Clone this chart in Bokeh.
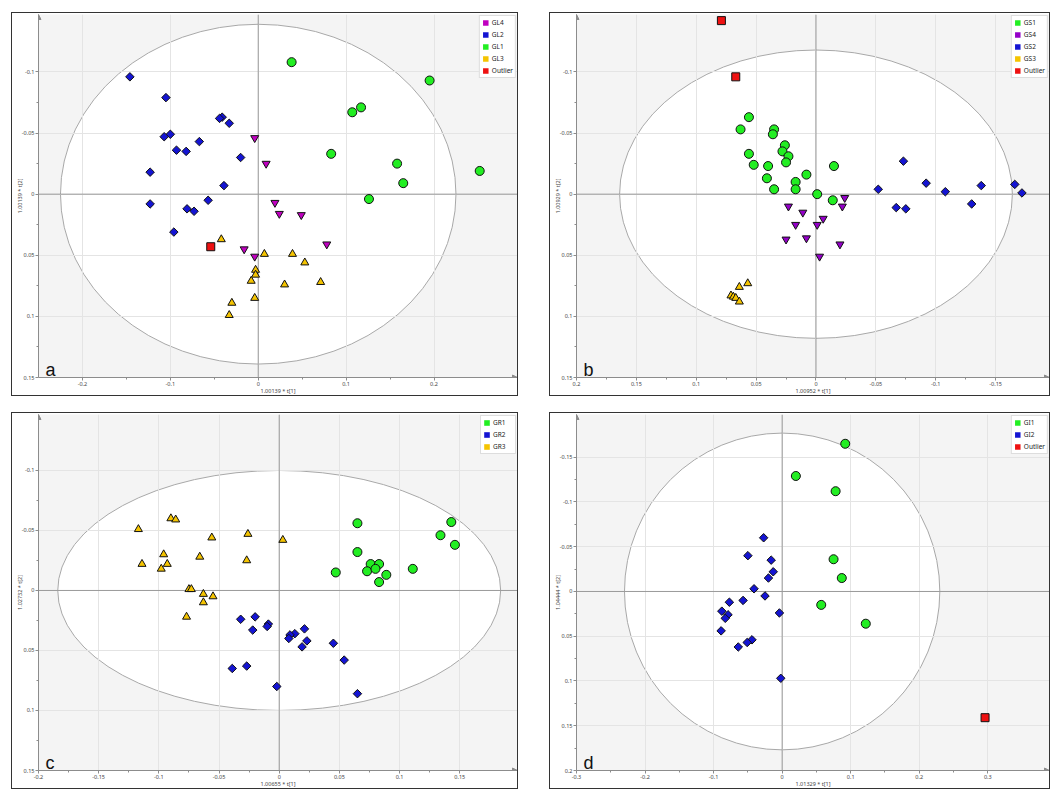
import math
from bokeh.plotting import figure
from bokeh.models import (Range1d, FixedTicker, CustomJSTickFormatter, Span, Label,
                          Legend, LegendItem, ColumnDataSource, Arrow, NormalHead)
from bokeh.layouts import row, column
from bokeh.embed import file_html
from bokeh.resources import INLINE

# ---------------- data ----------------
# Panel a
a_gl4_x = [-0.004, 0.009, 0.019, 0.024, 0.049, 0.078, -0.016, -0.004]
a_gl4_y = [-0.046, -0.025, 0.007, 0.016, 0.017, 0.041, 0.045, 0.051]
a_gl2_x = [-0.146, -0.105, -0.041, -0.044, -0.033, -0.100, -0.107, -0.067, -0.093,
           -0.082, -0.020, -0.123, -0.039, -0.057, -0.123, -0.081, -0.073, -0.096]
a_gl2_y = [-0.096, -0.079, -0.063, -0.062, -0.058, -0.049, -0.047, -0.043, -0.036,
           -0.035, -0.030, -0.018, -0.007, 0.005, 0.008, 0.012, 0.014, 0.031]
a_gl1_x = [0.038, 0.195, 0.107, 0.117, 0.083, 0.158, 0.165, 0.252, 0.126]
a_gl1_y = [-0.108, -0.093, -0.067, -0.071, -0.033, -0.025, -0.009, -0.019, 0.004]
a_gl3_x = [-0.042, 0.007, 0.039, 0.053, -0.003, -0.003, -0.008, 0.030, 0.071, -0.004, -0.030, -0.033]
a_gl3_y = [0.037, 0.049, 0.049, 0.056, 0.062, 0.066, 0.071, 0.074, 0.072, 0.085, 0.089, 0.099]
a_out_x = [-0.054]
a_out_y = [0.043]

# Panel b
b_gs1_x = [0.056, 0.063, 0.035, 0.036, 0.026, 0.028, 0.023, 0.056, 0.052, 0.040,
           0.025, -0.015, 0.008, 0.041, 0.017, 0.035, 0.017, -0.001, -0.014]
b_gs1_y = [-0.063, -0.053, -0.053, -0.049, -0.040, -0.035, -0.031, -0.033, -0.024, -0.023,
           -0.026, -0.023, -0.016, -0.013, -0.010, -0.004, -0.004, 0.000, 0.005]
b_gs4_x = [-0.024, -0.022, 0.023, 0.011, -0.006, 0.017, -0.001, 0.025, 0.008, -0.020, -0.003]
b_gs4_y = [0.003, 0.010, 0.010, 0.015, 0.020, 0.025, 0.025, 0.037, 0.036, 0.041, 0.051]
b_gs2_x = [-0.073, -0.052, -0.092, -0.108, -0.067, -0.075, -0.138, -0.130, -0.166, -0.172]
b_gs2_y = [-0.027, -0.004, -0.009, -0.002, 0.011, 0.012, -0.007, 0.008, -0.008, -0.001]
b_gs3_x = [0.057, 0.064, 0.071, 0.069, 0.067, 0.064]
b_gs3_y = [0.073, 0.076, 0.083, 0.084, 0.085, 0.088]
b_out_x = [0.079, 0.067]
b_out_y = [-0.142, -0.096]

# Panel c
c_gr1_x = [0.065, 0.143, 0.134, 0.146, 0.065, 0.076, 0.083, 0.073, 0.080, 0.089, 0.083, 0.047, 0.111]
c_gr1_y = [-0.056, -0.057, -0.046, -0.038, -0.032, -0.022, -0.022, -0.016, -0.018, -0.013, -0.007, -0.015, -0.018]
c_gr2_x = [-0.020, -0.032, -0.009, -0.010, -0.022, 0.021, 0.013, 0.009, 0.008, 0.023,
           0.019, 0.045, 0.054, -0.039, -0.027, -0.002, 0.065]
c_gr2_y = [0.022, 0.024, 0.028, 0.030, 0.033, 0.032, 0.036, 0.037, 0.040, 0.042,
           0.047, 0.044, 0.058, 0.065, 0.063, 0.080, 0.086]
c_gr3_x = [-0.117, -0.090, -0.086, -0.056, -0.026, 0.003, -0.096, -0.066, -0.114,
           -0.093, -0.098, -0.027, -0.075, -0.073, -0.063, -0.055, -0.063, -0.077]
c_gr3_y = [-0.051, -0.060, -0.059, -0.044, -0.047, -0.042, -0.030, -0.028, -0.022,
           -0.022, -0.018, -0.025, -0.001, -0.001, 0.003, 0.005, 0.010, 0.022]

# Panel d
d_gi1_x = [0.092, 0.020, 0.078, 0.075, 0.087, 0.057, 0.122]
d_gi1_y = [-0.165, -0.129, -0.112, -0.036, -0.015, 0.015, 0.036]
d_gi2_x = [-0.027, -0.050, -0.016, -0.013, -0.020, -0.041, -0.025, -0.057, -0.077,
           -0.004, -0.088, -0.079, -0.083, -0.089, -0.044, -0.051, -0.064, -0.002]
d_gi2_y = [-0.060, -0.040, -0.035, -0.022, -0.015, -0.003, 0.005, 0.010, 0.012,
           0.024, 0.022, 0.026, 0.030, 0.044, 0.054, 0.057, 0.062, 0.097]
d_out_x = [0.296]
d_out_y = [0.141]

# ticks
a_xticks = [-0.2, -0.1, 0, 0.1, 0.2]
a_yticks = [-0.1, -0.05, 0, 0.05, 0.1, 0.15]
b_xticks = [0.2, 0.15, 0.1, 0.05, 0, -0.05, -0.1, -0.15]
b_yticks = [-0.1, -0.05, 0, 0.05, 0.1, 0.15]
c_xticks = [-0.2, -0.15, -0.1, -0.05, 0, 0.05, 0.1, 0.15]
c_yticks = [-0.1, -0.05, 0, 0.05, 0.1, 0.15]
d_xticks = [-0.3, -0.2, -0.1, 0, 0.1, 0.2, 0.3]
d_yticks = [-0.15, -0.1, -0.05, 0, 0.05, 0.1, 0.15, 0.2]

# ---------------- styles ----------------
GREEN = "#22ee22"
BLUE = "#1414d2"
MAGENTA = "#c000c0"
PURPLE = "#9400c8"
YELLOW = "#f5c400"
RED = "#ee1111"
AXIS = "#8c8c8c"
FONT = "Noto Sans"
NAN = float("nan")


def minors(ticks):
    t = sorted(ticks)
    return [(t[i] + t[i + 1]) / 2 for i in range(len(t) - 1)]


def make_panel(w, h, xr, yr, xticks, yticks, xlabel, ylabel, ell_a, ell_b,
               letter, groups, legend_entries):
    p = figure(width=w, height=h, x_range=Range1d(*xr), y_range=Range1d(*yr),
               output_backend="svg", toolbar_location=None, title=None,
               min_border_left=10, min_border_right=2, min_border_top=1,
               min_border_bottom=10,
               background_fill_color="#f4f4f4", border_fill_color="white",
               outline_line_color=None,
               styles={"border": "1.5px solid #333"})
    fmt = CustomJSTickFormatter(code="return String(Math.round(tick*1000)/1000);")
    for ax, ticks in ((p.xaxis[0], xticks), (p.yaxis[0], yticks)):
        ax.ticker = FixedTicker(ticks=ticks, minor_ticks=minors(ticks))
        ax.formatter = fmt
        ax.axis_line_color = AXIS
        ax.major_tick_line_color = AXIS
        ax.minor_tick_line_color = AXIS
        ax.major_tick_out = 3
        ax.major_tick_in = 0
        ax.minor_tick_out = 2
        ax.minor_tick_in = 0
        ax.major_label_text_font_size = "5.5px"
        ax.major_label_text_font = FONT
        ax.major_label_text_color = "#444444"
        ax.axis_label_text_font_size = "5.5px"
        ax.axis_label_text_font = FONT
        ax.axis_label_text_font_style = "normal"
        ax.axis_label_text_color = "#444444"
        ax.major_label_standoff = 1
    p.yaxis.axis_label_standoff = -5
    p.xaxis.axis_label_standoff = -2
    p.xaxis.axis_label = xlabel
    p.yaxis.axis_label = ylabel
    p.xgrid.ticker = FixedTicker(ticks=xticks)
    p.ygrid.ticker = FixedTicker(ticks=yticks)
    p.xgrid.grid_line_color = "#e4e4e4"
    p.ygrid.grid_line_color = "#e4e4e4"

    ell = p.ellipse(x=[0], y=[0], width=[2 * ell_a], height=[2 * ell_b],
                    fill_color="white", line_color="#a8a8a8", line_width=1)
    ell.level = "image"

    p.add_layout(Span(location=0, dimension="height", line_color="#9a9a9a",
                      line_width=1, level="underlay"))
    p.add_layout(Span(location=0, dimension="width", line_color="#9a9a9a",
                      line_width=1, level="underlay"))

    # small arrow heads at the ends of the axes
    dx = (xr[1] - xr[0]) * 0.01
    dy = (yr[1] - yr[0]) * 0.01
    p.add_layout(Arrow(end=NormalHead(size=5, fill_color=AXIS, line_color=AXIS),
                       x_start=xr[1] - dx, y_start=yr[0], x_end=xr[1], y_end=yr[0],
                       line_color=AXIS, line_width=1))
    p.add_layout(Arrow(end=NormalHead(size=5, fill_color=AXIS, line_color=AXIS),
                       x_start=xr[0], y_start=yr[1] - dy, x_end=xr[0], y_end=yr[1],
                       line_color=AXIS, line_width=1))

    for xs, ys, marker, color, size, angle in groups:
        p.scatter(x=xs, y=ys, marker=marker, size=size, angle=angle,
                  fill_color=color, line_color="#111111", line_width=1)

    items = []
    for lab, color in legend_entries:
        src = ColumnDataSource(data=dict(l=[NAN], r=[NAN], t=[NAN], b=[NAN]))
        r = p.quad(left="l", right="r", top="t", bottom="b", source=src,
                   fill_color=color, line_color=None)
        items.append(LegendItem(label=lab, renderers=[r]))
    leg = Legend(items=items, location="top_right",
                 label_text_font_size="6.5px", label_text_font=FONT,
                 label_text_color="#222222",
                 glyph_width=7, glyph_height=7, label_height=7,
                 spacing=3, padding=2, margin=1, label_standoff=3,
                 border_line_color="#bbbbbb", background_fill_color="white",
                 background_fill_alpha=1.0)
    p.add_layout(leg)

    p.add_layout(Label(x=xr[0], y=yr[0], x_offset=7, y_offset=8, text=letter,
                       text_font_size="18px", text_font="Liberation Sans",
                       text_color="#111111", text_baseline="alphabetic"))
    return p


DIA = math.pi / 4

pa = make_panel(507, 384, (-0.25, 0.295), (0.15, -0.147), a_xticks, a_yticks,
                "1.00139 * t[1]", "1.00139 * t[2]", 0.225, 0.139, "a",
                [(a_gl2_x, a_gl2_y, "square", BLUE, 6, DIA),
                 (a_gl1_x, a_gl1_y, "circle", GREEN, 9, 0),
                 (a_gl4_x, a_gl4_y, "inverted_triangle", MAGENTA, 8, 0),
                 (a_gl3_x, a_gl3_y, "triangle", YELLOW, 8, 0),
                 (a_out_x, a_out_y, "square", RED, 8, 0)],
                [("GL4", MAGENTA), ("GL2", BLUE), ("GL1", GREEN), ("GL3", YELLOW), ("Outlier", RED)])

pb = make_panel(501, 384, (0.2, -0.195), (0.15, -0.147), b_xticks, b_yticks,
                "1.00952 * t[1]", "1.00929 * t[2]", 0.164, 0.118, "b",
                [(b_gs2_x, b_gs2_y, "square", BLUE, 6, DIA),
                 (b_gs1_x, b_gs1_y, "circle", GREEN, 9, 0),
                 (b_gs4_x, b_gs4_y, "inverted_triangle", PURPLE, 8, 0),
                 (b_gs3_x, b_gs3_y, "triangle", YELLOW, 8, 0),
                 (b_out_x, b_out_y, "square", RED, 8, 0)],
                [("GS1", GREEN), ("GS4", PURPLE), ("GS2", BLUE), ("GS3", YELLOW), ("Outlier", RED)])

pc = make_panel(507, 377, (-0.2, 0.198), (0.15, -0.1466), c_xticks, c_yticks,
                "1.00655 * t[1]", "1.02732 * t[2]", 0.184, 0.1, "c",
                [(c_gr2_x, c_gr2_y, "square", BLUE, 6, DIA),
                 (c_gr1_x, c_gr1_y, "circle", GREEN, 9, 0),
                 (c_gr3_x, c_gr3_y, "triangle", YELLOW, 8, 0)],
                [("GR1", GREEN), ("GR2", BLUE), ("GR3", YELLOW)])

pd_ = make_panel(501, 377, (-0.3, 0.39), (0.2, -0.1977), d_xticks, d_yticks,
                 "1.01329 * t[1]", "1.04444 * t[2]", 0.23, 0.177, "d",
                 [(d_gi2_x, d_gi2_y, "square", BLUE, 6, DIA),
                  (d_gi1_x, d_gi1_y, "circle", GREEN, 9, 0),
                  (d_out_x, d_out_y, "square", RED, 8, 0)],
                 [("GI1", GREEN), ("GI2", BLUE), ("Outlier", RED)])

layout = column(row(pa, pb, spacing=31), row(pc, pd_, spacing=31), spacing=16,
                margin=(12, 0, 0, 11))

open("out.html", "w").write(file_html(layout, INLINE))
